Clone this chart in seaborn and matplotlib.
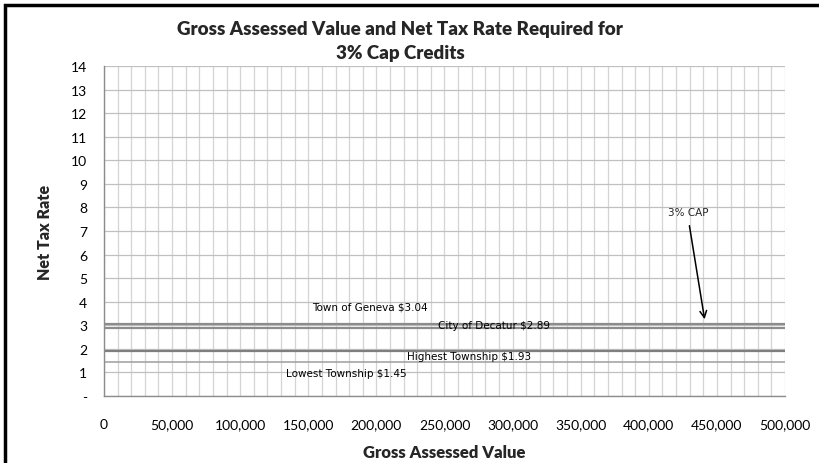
import matplotlib
matplotlib.use("Agg")
import matplotlib.pyplot as plt
from matplotlib.patches import Rectangle
from matplotlib.ticker import MultipleLocator, FixedLocator, FuncFormatter
import numpy as np
import pandas as pd
import seaborn as sns

# Rate lines and their labels
series_names = ["Town of Geneva", "City of Decatur", "Highest Township", "Lowest Township"]
rates = [3.04, 2.89, 1.93, 1.45]
line_colors = ["#8c8c8c", "#8c8c8c", "#7f7f7f", "#a6a6a6"]
label_x = [152700, 245200, 222500, 133600]
label_y = [3.78, 3.02, 1.70, 0.98]

# Axis extents
x_span = [0, 500000]
y_ticks = list(range(0, 15))
y_tick_labels = ["-"] + [str(v) for v in range(1, 15)]
x_major = list(range(0, 500001, 50000))

sns.set_theme(style="white")
plt.rcParams["font.family"] = ["Lato", "DejaVu Sans"]

rows = []
for name, r in zip(series_names, rates):
    for xv in x_span:
        rows.append({"series": name, "x": xv, "rate": r})
df = pd.DataFrame(rows)

fig = plt.figure(figsize=(8.2, 4.64), dpi=100)
ax = fig.add_axes([104 / 820, 1 - 397 / 464, 681 / 820, 330 / 464])

ax.set_xlim(0, 500000)
ax.set_ylim(0, 14)

# grid: vertical every 10,000, horizontal every 1
ax.xaxis.set_minor_locator(MultipleLocator(10000))
ax.xaxis.set_major_locator(FixedLocator(x_major))
ax.yaxis.set_major_locator(FixedLocator(y_ticks))
ax.grid(which="major", axis="y", color="#c0c0c0", linewidth=0.9)
ax.grid(which="both", axis="x", color="#d4d4d4", linewidth=0.9)
ax.set_axisbelow(True)

sns.lineplot(data=df, x="x", y="rate", hue="series", palette=dict(zip(series_names, line_colors)),
             legend=False, ax=ax, linewidth=1.6)
for ln, w in zip(ax.get_lines(), [1.6, 1.6, 1.6, 1.2]):
    ln.set_linewidth(w)

for sp in ["top", "right"]:
    ax.spines[sp].set_visible(False)
for sp in ["left", "bottom"]:
    ax.spines[sp].set_color("#8c8c8c")
    ax.spines[sp].set_linewidth(1.0)

ax.set_yticklabels(y_tick_labels)
ax.xaxis.set_major_formatter(FuncFormatter(lambda v, p: f"{int(v):,}"))
ax.tick_params(axis="both", which="both", length=0, labelsize=10, colors="black")
ax.tick_params(axis="x", pad=16)
ax.tick_params(axis="y", pad=12)

ax.set_xlabel("Gross Assessed Value", fontsize=12, fontweight="heavy", labelpad=10)
ax.set_ylabel("Net Tax Rate", fontsize=11.5, fontweight="heavy", labelpad=13)

for name, r, lx, ly in zip(series_names, rates, label_x, label_y):
    ax.text(lx, ly, f"{name} ${r:.2f}", fontsize=7.5, family=["DejaVu Sans"],
            va="center", ha="left", color="black")

ax.annotate("", xy=(441300, 3.14), xytext=(429500, 7.34),
            arrowprops=dict(arrowstyle="->", color="black", lw=1.1))
ax.text(428800, 7.8, "3% CAP", fontsize=7.5, family=["DejaVu Sans"], ha="center", va="center")

fig.text(400 / 820, 1 - 30 / 464, "Gross Assessed Value and Net Tax Rate Required for",
         ha="center", va="center", fontsize=13.5, fontweight="heavy")
fig.text(400 / 820, 1 - 53 / 464, "3% Cap Credits",
         ha="center", va="center", fontsize=13.5, fontweight="heavy")

# chart frame
fig.patches.append(Rectangle((5.5 / 820, -0.1), 1.2, 1.1 - 6 / 464, transform=fig.transFigure,
                             fill=False, edgecolor="black", linewidth=2.5))

fig.savefig("out.png", dpi=100, facecolor="white")
